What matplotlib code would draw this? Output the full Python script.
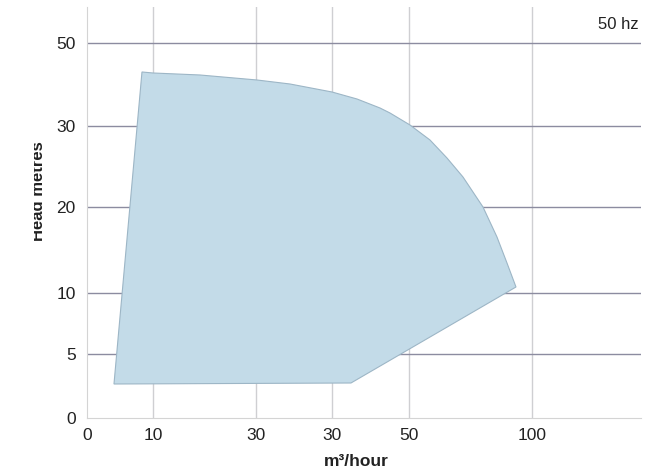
import matplotlib
matplotlib.use("Agg")
import matplotlib.pyplot as plt
from matplotlib.patches import Polygon, Rectangle

# axis ticks (positions in chart units, labels as printed on the chart)
x_tick_pos = [0, 66, 169, 245, 322, 445]
x_tick_labels = ["0", "10", "30", "30", "50", "100"]
y_tick_pos = [0, 64, 125, 211, 292, 375]
y_tick_labels = ["0", "5", "10", "20", "30", "50"]

# operating envelope, traced clockwise from the bottom-left corner
env_x = [27, 55, 66, 113, 170, 203, 245, 270, 293, 303, 323, 343, 360, 376, 396, 410, 420, 429, 264]
env_y = [34, 346, 345, 343, 338, 334, 326, 319, 310, 305, 293, 278, 260, 241, 211, 181, 155, 131, 35]

plt.rcParams["font.family"] = ["Liberation Sans", "DejaVu Sans"]

fig = plt.figure(figsize=(6.67, 4.72), dpi=100)
ax = fig.add_axes([0.1304, 0.1144, 0.8306, 0.8708])
ax.set_xlim(0, 554)
ax.set_ylim(0, 411)

# grid: light verticals, darker horizontals
for xp in x_tick_pos[1:]:
    ax.axvline(xp, color="#cfcfd2", lw=1.0, zorder=1)
for yp in y_tick_pos[1:]:
    ax.axhline(yp, color="#8c8ca0", lw=1.0, zorder=1)

env = Polygon(list(zip(env_x, env_y)), closed=True, facecolor="#c3dbe8",
              edgecolor="#9db6c6", lw=0.8, zorder=2)
ax.add_patch(env)

ax.set_xticks(x_tick_pos)
ax.set_xticklabels(x_tick_labels)
ax.set_yticks(y_tick_pos)
ax.set_yticklabels(y_tick_labels)
ax.tick_params(axis="x", length=0, pad=7, labelsize=12.5, colors="#222222")
ax.tick_params(axis="y", length=0, pad=8, labelsize=12.5, colors="#222222")

for side in ["top", "right"]:
    ax.spines[side].set_visible(False)
ax.spines["left"].set_color("#d4d4d4")
ax.spines["bottom"].set_color("#d4d4d4")

ax.text(0.995, 0.958, "50 hz", transform=ax.transAxes, ha="right", va="center",
        fontsize=12, color="#222222")

fig.text(356 / 667, 1 - 466 / 472, "m³/hour", ha="center", va="baseline",
         fontsize=12.5, fontweight="bold", color="#222222")

fig.text(43 / 667, 1 - 191 / 472, "Head metres", rotation=90, rotation_mode="anchor",
         ha="center", va="baseline", fontsize=12, fontweight="bold", color="#222222")
# the original label is clipped along its top edge
fig.add_artist(Rectangle((0, 0), 33.8 / 667, 1, transform=fig.transFigure,
                         facecolor="white", edgecolor="none", zorder=10))

fig.savefig("out.png", dpi=100)
